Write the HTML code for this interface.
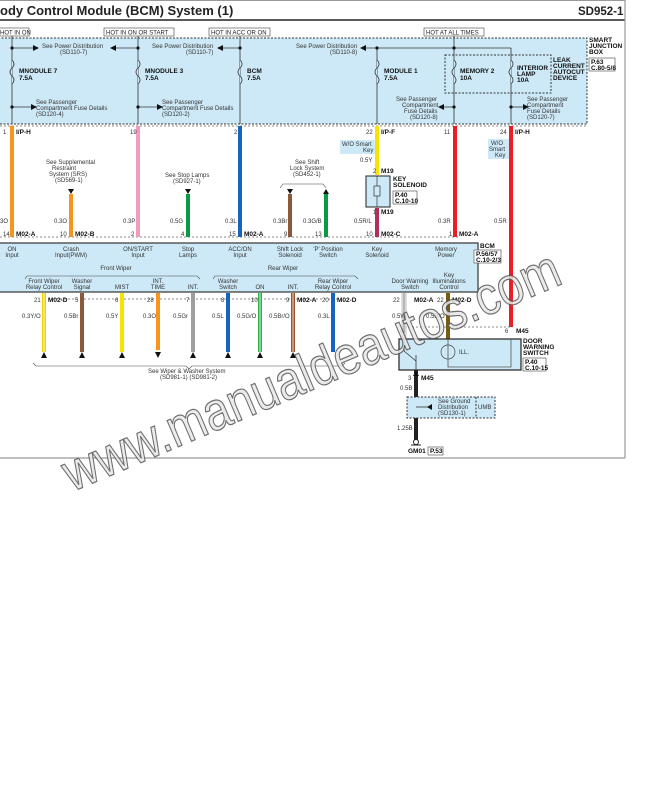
<!DOCTYPE html>
<html><head><meta charset="utf-8"><style>
html,body{margin:0;padding:0;background:#fff;width:652px;height:789px;overflow:hidden}
svg{display:block;font-family:"Liberation Sans",sans-serif}
.t{font-size:6px;fill:#333}
.b{font-size:6.5px;font-weight:bold;fill:#111}
</style></head><body>
<svg width="652" height="789" viewBox="0 0 652 789">
<!-- frame -->
<line x1="0" y1="0.5" x2="625" y2="0.5" stroke="#999" stroke-width="1"/>
<line x1="0" y1="20" x2="625" y2="20" stroke="#222" stroke-width="1.5"/>
<line x1="625" y1="0" x2="625" y2="458" stroke="#999" stroke-width="1.2"/>
<line x1="0" y1="458" x2="625" y2="458" stroke="#999" stroke-width="1.2"/>
<text x="0" y="15" font-size="13" font-weight="bold" fill="#222">ody Control Module (BCM) System (1)</text>
<text x="578" y="15" font-size="11.5" font-weight="bold" fill="#222">SD952-1</text>

<!-- junction box -->
<rect x="-2" y="38" width="589" height="86" fill="#cde9f7" stroke="#333" stroke-dasharray="2,1.5" stroke-width="1"/>
<rect x="445" y="55" width="106" height="38" fill="none" stroke="#333" stroke-dasharray="2,1.5" stroke-width="1"/>
<g font-size="6" fill="#222">
<rect x="-2" y="28" width="31" height="8" fill="#fff" stroke="#444" stroke-width="0.6"/><text x="0" y="34.5">HOT IN ON</text>
<rect x="104" y="28" width="70" height="8" fill="#fff" stroke="#444" stroke-width="0.6"/><text x="106" y="34.5">HOT IN ON OR START</text>
<rect x="209" y="28" width="61" height="8" fill="#fff" stroke="#444" stroke-width="0.6"/><text x="211" y="34.5">HOT IN ACC OR ON</text>
<rect x="424" y="28" width="60" height="8" fill="#fff" stroke="#444" stroke-width="0.6"/><text x="426" y="34.5">HOT AT ALL TIMES</text>
</g>
<!-- power lines inside box -->
<g stroke="#333" stroke-width="0.8" fill="none">
<line x1="12" y1="36" x2="12" y2="124"/><line x1="138" y1="36" x2="138" y2="124"/><line x1="240" y1="36" x2="240" y2="124"/>
<line x1="454" y1="36" x2="454" y2="124"/><line x1="377" y1="48" x2="377" y2="124"/><line x1="511" y1="48" x2="511" y2="124"/>
<line x1="12" y1="48" x2="34" y2="48"/><line x1="112" y1="48" x2="138" y2="48"/><line x1="220" y1="48" x2="240" y2="48"/>
<line x1="362" y1="48" x2="511" y2="48"/>
<line x1="12" y1="107" x2="32" y2="107"/><line x1="138" y1="107" x2="158" y2="107"/>
<line x1="442" y1="107" x2="454" y2="107"/><line x1="511" y1="107" x2="524" y2="107"/>
</g>
<g fill="#111">
<circle cx="12" cy="48" r="1.6"/><circle cx="138" cy="48" r="1.6"/><circle cx="240" cy="48" r="1.6"/><circle cx="377" cy="48" r="1.6"/><circle cx="454" cy="48" r="1.6"/>
<circle cx="12" cy="107" r="1.6"/><circle cx="138" cy="107" r="1.6"/><circle cx="454" cy="107" r="1.6"/><circle cx="511" cy="107" r="1.6"/>
<polygon points="39,48 33,45 33,51"/><polygon points="110,48 116,45 116,51"/><polygon points="217,48 223,45 223,51"/><polygon points="360,48 366,45 366,51"/>
<polygon points="37,107 31,104 31,110"/><polygon points="163,107 157,104 157,110"/><polygon points="438,107 444,104 444,110"/><polygon points="529,107 523,104 523,110"/>
</g>
<!-- fuses -->
<g stroke="#333" stroke-width="0.8" fill="#cde9f7">
<path d="M12,60 q4,4 0,8 q-4,4 0,8 q4,4 0,8" /><path d="M138,60 q4,4 0,8 q-4,4 0,8 q4,4 0,8"/><path d="M240,60 q4,4 0,8 q-4,4 0,8 q4,4 0,8"/>
<path d="M377,60 q4,4 0,8 q-4,4 0,8 q4,4 0,8"/><path d="M454,60 q4,4 0,8 q-4,4 0,8 q4,4 0,8"/><path d="M511,60 q4,4 0,8 q-4,4 0,8 q4,4 0,8"/>
</g>
<g class="t">
<text x="42" y="48">See Power Distribution</text><text x="60" y="54">(SD110-7)</text>
<text x="152" y="48">See Power Distribution</text><text x="186" y="54">(SD110-7)</text>
<text x="296" y="48">See Power Distribution</text><text x="330" y="54">(SD110-8)</text>
<text x="36" y="104">See Passenger</text><text x="36" y="110">Compartment Fuse Details</text><text x="36" y="116">(SD120-4)</text>
<text x="162" y="104">See Passenger</text><text x="162" y="110">Compartment Fuse Details</text><text x="162" y="116">(SD120-2)</text>
<text x="396" y="101">See Passenger</text><text x="402" y="107">Compartment</text><text x="404" y="113">Fuse Details</text><text x="410" y="119">(SD120-8)</text>
<text x="527" y="101">See Passenger</text><text x="527" y="107">Compartment</text><text x="527" y="113">Fuse Details</text><text x="527" y="119">(SD120-7)</text>
</g>
<g class="b">
<text x="19" y="73">MNODULE 7</text><text x="19" y="80">7.5A</text>
<text x="145" y="73">MNODULE 3</text><text x="145" y="80">7.5A</text>
<text x="247" y="73">BCM</text><text x="247" y="80">7.5A</text>
<text x="384" y="73">MODULE 1</text><text x="384" y="80">7.5A</text>
<text x="460" y="73">MEMORY 2</text><text x="460" y="80">10A</text>
<text x="517" y="70">INTERIOR</text><text x="517" y="76">LAMP</text><text x="517" y="82">10A</text>
<text x="553" y="62">LEAK</text><text x="553" y="68">CURRENT</text><text x="553" y="74">AUTOCUT</text><text x="553" y="80">DEVICE</text>
<text x="589" y="42">SMART</text><text x="589" y="48">JUNCTION</text><text x="589" y="54">BOX</text>
</g>
<rect x="589" y="58" width="26" height="13" fill="#fff" stroke="#444" stroke-width="0.6"/>
<text x="591" y="64" class="b" font-size="5.5">P.63</text><text x="591" y="70" class="b" font-size="5.5">C.80-5/8</text>

<!-- dashed connector lines -->
<g stroke="#666" stroke-width="0.7" stroke-dasharray="2,2">
<line x1="0" y1="126" x2="587" y2="126"/>
<line x1="0" y1="237" x2="460" y2="237"/>
<line x1="44" y1="299" x2="340" y2="299"/>
<line x1="404" y1="327" x2="511" y2="327"/>
</g>

<!-- upper wires -->
<g stroke-width="4" fill="none">
<line x1="12" y1="126" x2="12" y2="237" stroke="#f7941d"/>
<line x1="138" y1="126" x2="138" y2="237" stroke="#f49ac1"/>
<line x1="240" y1="126" x2="240" y2="237" stroke="#1565c0"/>
<line x1="377" y1="126" x2="377" y2="175" stroke="#f5e400"/>
<line x1="377" y1="208" x2="377" y2="237" stroke="#b0305a"/>
<line x1="455" y1="126" x2="455" y2="237" stroke="#ee1c24"/>
<line x1="511" y1="126" x2="511" y2="327" stroke="#ee1c24"/>
<line x1="71" y1="194" x2="71" y2="237" stroke="#f7941d"/>
<line x1="188" y1="194" x2="188" y2="237" stroke="#0a9a45"/>
<line x1="290" y1="194" x2="290" y2="237" stroke="#8b5a3c"/>
<line x1="326" y1="194" x2="326" y2="237" stroke="#0a9a45"/>
</g>
<g fill="#111">
<polygon points="68,189 74,189 71,194"/><polygon points="185,189 191,189 188,194"/><polygon points="287,189 293,189 290,194"/><polygon points="323,194 329,194 326,189"/>
</g>
<path d="M280,188 l3,-4 h40 l3,4" fill="none" stroke="#444" stroke-width="0.6"/>
<g class="t">
<text x="3" y="134">1</text><text x="130" y="134">19</text><text x="234" y="134">2</text><text x="366" y="134">22</text><text x="444" y="134">11</text><text x="500" y="134">24</text>
<text x="46" y="164">See Supplemental</text><text x="52" y="170">Restraint</text><text x="49" y="176">System (SRS)</text><text x="55" y="182">(SD569-1)</text>
<text x="165" y="177">See Stop Lamps</text><text x="173" y="183">(SD927-1)</text>
<text x="295" y="164">See Shift</text><text x="290" y="170">Lock System</text><text x="293" y="176">(SD452-1)</text>
<text x="0" y="223">3O</text><text x="54" y="223">0.3O</text><text x="123" y="223">0.3P</text><text x="170" y="223">0.5G</text><text x="225" y="223">0.3L</text>
<text x="273" y="223">0.3Br</text><text x="303" y="223">0.3G/B</text><text x="354" y="223">0.5R/L</text><text x="438" y="223">0.3R</text><text x="494" y="223">0.5R</text>
<text x="360" y="162">0.5Y</text>
<text x="3" y="236">14</text><text x="60" y="236">10</text><text x="131" y="236">2</text><text x="181" y="236">4</text><text x="229" y="236">15</text><text x="284" y="236">9</text><text x="315" y="236">13</text><text x="366" y="236">10</text><text x="449" y="236">1</text>
</g>
<g class="b">
<text x="16" y="134">I/P-H</text><text x="381" y="134">I/P-F</text><text x="515" y="134">I/P-H</text>
<text x="16" y="236">M02-A</text><text x="75" y="236">M02-B</text><text x="244" y="236">M02-A</text><text x="381" y="236">M02-C</text><text x="459" y="236">M02-A</text>
<text x="381" y="173">M19</text><text x="381" y="214">M19</text>
<text x="393" y="181">KEY</text><text x="393" y="187">SOLENOID</text>
</g>
<text x="373" y="173" class="t">2</text><text x="373" y="214" class="t">1</text>
<rect x="340" y="140" width="35" height="14" fill="#cde9f7"/><text x="342" y="146" class="t">W/O Smart</text><text x="363" y="152" class="t">Key</text>
<rect x="488" y="139" width="21" height="20" fill="#cde9f7"/><text x="491" y="145" class="t">W/O</text><text x="489" y="151" class="t">Smart</text><text x="495" y="157" class="t">Key</text>
<rect x="366" y="176" width="24" height="31" fill="#cde9f7" stroke="#222" stroke-width="1"/>
<line x1="377" y1="176" x2="377" y2="207" stroke="#333" stroke-width="0.7"/>
<rect x="374" y="186" width="6" height="10" fill="#cde9f7" stroke="#333" stroke-width="0.7"/>
<rect x="393" y="191" width="24" height="13" fill="#fff" stroke="#444" stroke-width="0.6"/>
<text x="395" y="197" class="b" font-size="5.5">P.40</text><text x="395" y="203" class="b" font-size="5.5">C.10-10</text>

<!-- BCM box -->
<rect x="-2" y="243" width="480" height="49" fill="#cde9f7" stroke="#333" stroke-width="1.2"/>
<g class="t" text-anchor="middle">
<text x="12" y="251">ON</text><text x="12" y="257">Input</text>
<text x="71" y="251">Crash</text><text x="71" y="257">Input(PWM)</text>
<text x="138" y="251">ON/START</text><text x="138" y="257">Input</text>
<text x="188" y="251">Stop</text><text x="188" y="257">Lamps</text>
<text x="240" y="251">ACC/ON</text><text x="240" y="257">Input</text>
<text x="290" y="251">Shift Lock</text><text x="290" y="257">Solenoid</text>
<text x="328" y="251">'P' Position</text><text x="328" y="257">Switch</text>
<text x="377" y="251">Key</text><text x="377" y="257">Solenoid</text>
<text x="446" y="251">Memory</text><text x="446" y="257">Power</text>
<text x="116" y="270">Front Wiper</text><text x="283" y="270">Rear Wiper</text>
<text x="44" y="283">Front Wiper</text><text x="44" y="289">Relay Control</text>
<text x="82" y="283">Washer</text><text x="82" y="289">Signal</text>
<text x="122" y="289">MIST</text>
<text x="158" y="283">INT.</text><text x="158" y="289">TIME</text>
<text x="193" y="289">INT.</text>
<text x="228" y="283">Washer</text><text x="228" y="289">Switch</text>
<text x="260" y="289">ON</text><text x="293" y="289">INT.</text>
<text x="333" y="283">Rear Wiper</text><text x="333" y="289">Relay Control</text>
<text x="410" y="283">Door Warning</text><text x="410" y="289">Switch</text>
<text x="449" y="277">Key</text><text x="449" y="283">Illuminations</text><text x="449" y="289">Control</text>
</g>
<path d="M25,279 l2,-3 h170 l3,3 M213,279 l2,-3 h140 l3,3" fill="none" stroke="#444" stroke-width="0.6"/>
<text x="480" y="248" class="b">BCM</text>
<rect x="474" y="250" width="27" height="13" fill="#fff" stroke="#444" stroke-width="0.6"/>
<text x="476" y="256" class="b" font-size="5.5">P.56/57</text><text x="476" y="262" class="b" font-size="5.5">C.10-2/3</text>

<!-- lower wires -->
<g stroke-width="4" fill="none">
<line x1="44" y1="293" x2="44" y2="352" stroke="#f5d000"/>
<line x1="82" y1="293" x2="82" y2="352" stroke="#8b5a3c"/>
<line x1="122" y1="293" x2="122" y2="352" stroke="#f5e400"/>
<line x1="158" y1="293" x2="158" y2="350" stroke="#f7941d"/>
<line x1="193" y1="293" x2="193" y2="352" stroke="#9e9e9e"/>
<line x1="228" y1="293" x2="228" y2="352" stroke="#1565c0"/>
<line x1="260" y1="293" x2="260" y2="352" stroke="#2db34a"/>
<line x1="293" y1="293" x2="293" y2="352" stroke="#a0522d"/>
<line x1="333" y1="293" x2="333" y2="352" stroke="#1565c0"/>
<line x1="404" y1="293" x2="404" y2="340" stroke="#eee"/>
<line x1="448" y1="293" x2="448" y2="345" stroke="#7a5a10"/>
<line x1="416" y1="370" x2="416" y2="440" stroke="#222"/>
</g>
<g stroke-width="0.8" fill="none">
<line x1="44" y1="293" x2="44" y2="352" stroke="#fff"/>
<line x1="260" y1="293" x2="260" y2="352" stroke="#fff"/>
<line x1="293" y1="293" x2="293" y2="352" stroke="#fff"/>
<line x1="404" y1="293" x2="404" y2="340" stroke="#666"/>
<line x1="402" y1="293" x2="402" y2="340" stroke="#888" stroke-width="0.5"/><line x1="406" y1="293" x2="406" y2="340" stroke="#888" stroke-width="0.5"/>
</g>
<g fill="#111">
<polygon points="41,358 47,358 44,352"/><polygon points="79,358 85,358 82,352"/><polygon points="119,358 125,358 122,352"/><polygon points="155,352 161,352 158,358"/><polygon points="190,358 196,358 193,352"/>
<polygon points="225,358 231,358 228,352"/><polygon points="257,358 263,358 260,352"/><polygon points="290,358 296,358 293,352"/>
</g>
<path d="M33,363 l3,3 h150 l3,3 l3,-3 h150 l3,-3" fill="none" stroke="#444" stroke-width="0.6"/>
<g class="t">
<text x="34" y="302">21</text><text x="75" y="302">5</text><text x="115" y="302">6</text><text x="147" y="302">28</text><text x="186" y="302">7</text><text x="221" y="302">8</text><text x="251" y="302">10</text><text x="286" y="302">9</text><text x="322" y="302">20</text>
<text x="393" y="302">22</text><text x="437" y="302">22</text>
<text x="22" y="318">0.3Y/O</text><text x="64" y="318">0.5Br</text><text x="106" y="318">0.5Y</text><text x="143" y="318">0.3O</text><text x="173" y="318">0.5Gr</text>
<text x="212" y="318">0.5L</text><text x="237" y="318">0.5G/O</text><text x="269" y="318">0.5Br/O</text><text x="318" y="318">0.3L</text>
<text x="392" y="318">0.5W</text><text x="426" y="318">0.5B/O</text>
<text x="148" y="373">See Wiper &amp; Washer System</text><text x="160" y="379">(SD981-1) (SD981-2)</text>
<text x="400" y="333">4</text><text x="505" y="333">6</text><text x="408" y="380">3</text>
<text x="400" y="390">0.5B</text><text x="397" y="430">1.25B</text>
</g>
<g class="b">
<text x="48" y="302">M02-D</text><text x="297" y="302">M02-A</text><text x="337" y="302">M02-D</text>
<text x="414" y="302">M02-A</text><text x="452" y="302">M02-D</text>
<text x="516" y="333">M45</text><text x="421" y="380">M45</text>
<text x="523" y="343">DOOR</text><text x="523" y="349">WARNING</text><text x="523" y="355">SWITCH</text>
<text x="408" y="453">GM01</text>
</g>
<rect x="523" y="358" width="23" height="13" fill="#fff" stroke="#444" stroke-width="0.6"/>
<text x="525" y="364" class="b" font-size="5.5">P.40</text><text x="525" y="370" class="b" font-size="5.5">C.10-15</text>
<rect x="428" y="447" width="15" height="8" fill="#fff" stroke="#444" stroke-width="0.6"/><text x="430" y="453" class="b" font-size="5.5">P.53</text>

<!-- door warning switch -->
<rect x="399" y="339" width="122" height="31" fill="#cde9f7" stroke="#222" stroke-width="1.2"/>
<path d="M448,339 v28 h63 v-28" fill="none" stroke="#555" stroke-width="0.8"/>
<circle cx="448" cy="352" r="7" fill="none" stroke="#444" stroke-width="0.7"/>
<text x="459" y="354" class="t">ILL.</text>
<path d="M404,339 v12 l12,10 M416,355 v15" fill="none" stroke="#333" stroke-width="0.8"/>
<polygon points="413,376 419,376 416,371" fill="#111"/>
<!-- ground box -->
<rect x="407" y="397" width="88" height="21" fill="#cde9f7" stroke="#333" stroke-dasharray="2,1.5" stroke-width="1"/>
<line x1="476" y1="397" x2="476" y2="418" stroke="#333" stroke-dasharray="2,1.5"/>
<line x1="416" y1="407" x2="432" y2="407" stroke="#333" stroke-width="0.8"/>
<polygon points="432,404 432,410 427,407" fill="#111"/>
<g class="t"><text x="438" y="403">See Ground</text><text x="438" y="409">Distribution</text><text x="438" y="415">(SD130-1)</text><text x="478" y="409">UMB</text></g>
<circle cx="416" cy="442" r="2.5" fill="none" stroke="#222" stroke-width="1"/>
<line x1="411" y1="445" x2="421" y2="445" stroke="#222"/>

<!-- watermark -->
<text x="0" y="0" transform="translate(72,492) rotate(-23)" font-size="54" fill="#e8e8e8" stroke="#555" stroke-width="1.2" textLength="535" lengthAdjust="spacingAndGlyphs" opacity="0.85">www.manualdeautos.com</text>
</svg>
</body></html>
